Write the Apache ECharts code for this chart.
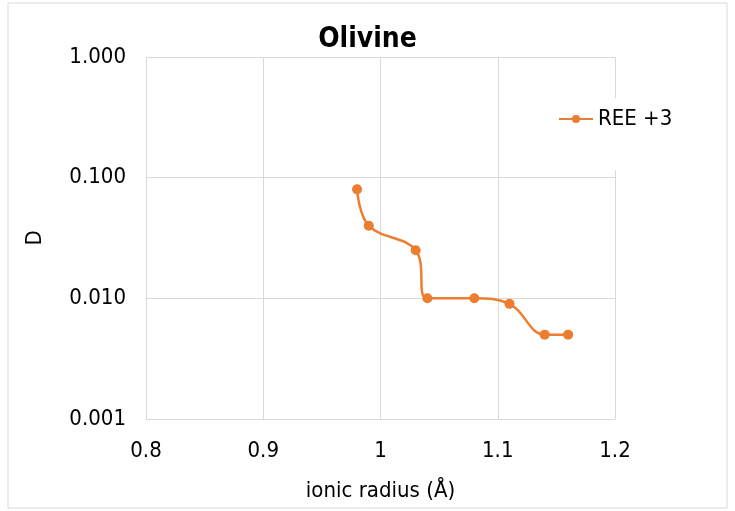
<!DOCTYPE html>
<html><head><meta charset="utf-8">
<script src="https://cdn.jsdelivr.net/npm/echarts@6/dist/echarts.min.js"></script>
<style>html,body{margin:0;padding:0;background:#fff}#c{width:735px;height:511px}</style>
</head><body><div id="c"></div>
<script>
var ionicRadius = [0.98, 0.99, 1.03, 1.04, 1.08, 1.11, 1.14, 1.16];
var dValues = [0.08, 0.04, 0.025, 0.01, 0.01, 0.009, 0.005, 0.005];
var xTicks = [0.8, 0.9, 1.0, 1.1, 1.2];
var seriesName = 'REE +3';
var FONT = 'DejaVu Sans Condensed, DejaVu Sans';
var chart = echarts.init(document.getElementById('c'));
chart.setOption({
  animation: false,
  backgroundColor: '#fff',
  title: {text: 'Olivine', left: 'center', top: 21,
    textStyle: {fontFamily: FONT, fontSize: 28, fontWeight: 'bold', color: '#000'}},
  graphic: [{type: 'rect', shape: {x: 8, y: 3, width: 719, height: 505},
    style: {fill: 'none', stroke: '#d9d9d9', lineWidth: 1}, z: -1}],
  legend: {data: [seriesName], left: 552, top: 98, backgroundColor: '#fff',
    padding: [10, 10, 40, 6], itemWidth: 34, itemHeight: 10, itemGap: 4,
    textStyle: {fontFamily: FONT, fontSize: 22, color: '#000'}},
  grid: {left: 146, right: 120, top: 57, bottom: 92},
  xAxis: {type: 'value', min: 0.8, max: 1.2, interval: 0.1,
    name: 'ionic radius (Å)', nameLocation: 'middle', nameGap: 61,
    nameTextStyle: {fontFamily: FONT, fontSize: 22, color: '#000'},
    axisLine: {show: true, lineStyle: {color: '#d9d9d9'}},
    axisTick: {show: false},
    axisLabel: {margin: 21, fontFamily: FONT, fontSize: 22, color: '#000',
      formatter: function(v){ return String(parseFloat(v.toFixed(1))); }},
    splitLine: {show: true, lineStyle: {color: '#d9d9d9'}}},
  yAxis: {type: 'log', min: 0.001, max: 1, logBase: 10,
    name: 'D', nameLocation: 'middle', nameGap: 100,
    nameTextStyle: {fontFamily: FONT, fontSize: 22, color: '#000'},
    axisLine: {show: false}, axisTick: {show: false},
    axisLabel: {margin: 20, fontFamily: FONT, fontSize: 22, color: '#000',
      formatter: function(v){ return v.toFixed(3); }},
    splitLine: {show: true, lineStyle: {color: '#d9d9d9'}}},
  series: [{name: seriesName, type: 'line', smooth: 0.4,
    data: ionicRadius.map(function(x, i){ return [x, dValues[i]]; }),
    symbol: 'circle', symbolSize: 10,
    itemStyle: {color: '#ED7D31'},
    lineStyle: {color: '#ED7D31', width: 2.5}}]
});
</script></body></html>
